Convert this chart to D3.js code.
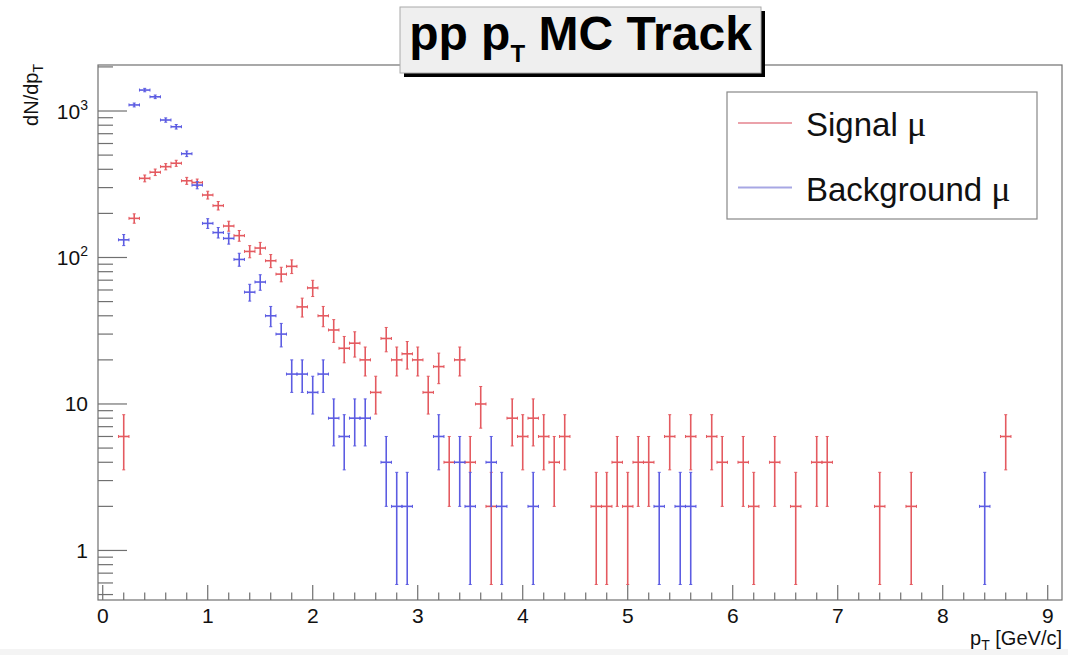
<!DOCTYPE html>
<html>
<head>
<meta charset="utf-8">
<script src="https://cdn.jsdelivr.net/npm/d3@7"></script>
<style>
  html, body { margin: 0; padding: 0; background: #fff; }
  svg { display: block; font-family: "Liberation Sans", Arial, sans-serif; }
</style>
</head>
<body>
<div id="chart"></div>
<script>
// Signal muons: bin centre (GeV/c) and dN/dpT
const signalPt = [0.2, 0.3, 0.4, 0.5, 0.6, 0.7, 0.8, 0.9, 1.0, 1.1, 1.2, 1.3, 1.4, 1.5, 1.6, 1.7, 1.8, 1.9,
  2.0, 2.1, 2.2, 2.3, 2.4, 2.5, 2.6, 2.7, 2.8, 2.9, 3.0, 3.1, 3.2, 3.3, 3.4, 3.5, 3.6, 3.7, 3.9,
  4.0, 4.1, 4.2, 4.3, 4.4, 4.7, 4.8, 4.9, 5.0, 5.1, 5.2, 5.4, 5.6, 5.8, 5.9, 6.1, 6.2, 6.4, 6.6,
  6.8, 6.9, 7.4, 7.7, 8.6];
const signalN = [6, 185, 347, 382, 417, 440, 334, 325, 267, 226, 164, 141, 110, 116, 95, 77, 87, 46,
  62, 40, 32, 24, 26, 20, 12, 28, 20, 22, 20, 12, 18, 4, 20, 4, 10, 2, 8,
  6, 8, 6, 4, 6, 2, 2, 4, 2, 4, 4, 6, 6, 6, 4, 4, 2, 4, 2,
  4, 4, 2, 2, 6];

// Background muons
const backgroundPt = [0.2, 0.3, 0.4, 0.5, 0.6, 0.7, 0.8, 0.9, 1.0, 1.1, 1.2, 1.3, 1.4, 1.5, 1.6, 1.7, 1.8, 1.9,
  2.0, 2.1, 2.2, 2.3, 2.4, 2.5, 2.7, 2.8, 2.9, 3.2, 3.4, 3.5, 3.7, 3.8, 4.1, 5.3, 5.5, 5.6, 8.4];
const backgroundN = [132, 1100, 1390, 1250, 868, 781, 511, 312, 171, 148, 135, 97, 58, 68, 40, 30, 16, 16,
  12, 16, 8, 6, 8, 8, 4, 2, 2, 6, 4, 2, 4, 2, 2, 2, 2, 2, 2];

const xTicks = [0, 1, 2, 3, 4, 5, 6, 7, 8, 9];
const yTicks = [1, 10, 100, 1000];
const yTickLabels = [['1', ''], ['10', ''], ['10', '2'], ['10', '3']];
const binWidth = 0.1;

const series = [
  { name: 'Signal', pt: signalPt, n: signalN, color: '#e45a60', legend: '#eba2aa' },
  { name: 'Background', pt: backgroundPt, n: backgroundN, color: '#5c5ce2', legend: '#a7a7e4' }
];

const width = 1068, height = 655;
const frame = { left: 98, right: 1062, top: 65, bottom: 600 };

const svg = d3.select('#chart').append('svg')
  .attr('width', width)
  .attr('height', height);

svg.append('rect').attr('width', width).attr('height', height).attr('fill', '#fff');
svg.append('rect').attr('x', 0).attr('y', 649).attr('width', width).attr('height', 6).attr('fill', '#f4f4f4');

const x = d3.scaleLinear().domain([-0.045, 9.136]).range([frame.left, frame.right]);
const y = d3.scaleLog().domain([0.459, 2061]).range([frame.bottom, frame.top]);

const axisColor = '#707070';

// frame
svg.append('rect')
  .attr('x', frame.left).attr('y', frame.top)
  .attr('width', frame.right - frame.left).attr('height', frame.bottom - frame.top)
  .attr('fill', 'none').attr('stroke', axisColor).attr('stroke-width', 1.2);

// x axis ticks
const xMinor = d3.range(0, 9.15, 0.2).map(v => Math.round(v * 10) / 10);
svg.append('g').selectAll('line')
  .data(xMinor)
  .enter().append('line')
  .attr('x1', d => x(d)).attr('x2', d => x(d))
  .attr('y1', frame.bottom)
  .attr('y2', d => frame.bottom - (Number.isInteger(d) ? 15 : 7.5))
  .attr('stroke', axisColor).attr('stroke-width', 1.2);

svg.append('g').selectAll('text')
  .data(xTicks)
  .enter().append('text')
  .attr('x', d => x(d))
  .attr('y', 623)
  .attr('text-anchor', 'middle')
  .attr('font-size', '21px')
  .attr('fill', '#111')
  .text(d => d);

// y axis ticks (log)
const yMinor = [];
[0.1, 1, 10, 100, 1000].forEach(dec => {
  for (let k = 1; k <= 9; k++) {
    const v = dec * k;
    if (v >= y.domain()[0] && v <= y.domain()[1]) yMinor.push({ v, major: k === 1 });
  }
});
svg.append('g').selectAll('line')
  .data(yMinor)
  .enter().append('line')
  .attr('x1', frame.left)
  .attr('x2', d => frame.left + (d.major ? 29 : 15))
  .attr('y1', d => y(d.v)).attr('y2', d => y(d.v))
  .attr('stroke', axisColor).attr('stroke-width', 1.2);

const yLab = svg.append('g').selectAll('text')
  .data(yTicks)
  .enter().append('text')
  .attr('x', 88)
  .attr('y', d => y(d) + 7.5)
  .attr('text-anchor', 'end')
  .attr('font-size', '21px')
  .attr('fill', '#111');
yLab.append('tspan').text((d, i) => yTickLabels[i][0]);
yLab.append('tspan')
  .attr('dy', -9)
  .attr('font-size', '14px')
  .text((d, i) => yTickLabels[i][1]);

// axis titles
const yTitle = svg.append('text')
  .attr('transform', 'translate(38,64) rotate(-90)')
  .attr('text-anchor', 'end')
  .attr('font-size', '20px')
  .attr('fill', '#111');
yTitle.append('tspan').text('dN/dp');
yTitle.append('tspan').attr('dy', 5).attr('font-size', '14px').text('T');

const xTitle = svg.append('text')
  .attr('x', 1062)
  .attr('y', 645)
  .attr('text-anchor', 'end')
  .attr('font-size', '20px')
  .attr('fill', '#111');
xTitle.append('tspan').text('p');
xTitle.append('tspan').attr('dy', 5).attr('font-size', '14px').text('T');
xTitle.append('tspan').attr('dy', -5).text(' [GeV/c]');

// error bars: horizontal = bin width, vertical = sqrt(N)
const cap = 1.5;
series.forEach(s => {
  const pts = s.pt.map((p, i) => ({ p, n: s.n[i] }));
  const g = svg.append('g')
    .attr('stroke', s.color)
    .attr('stroke-width', 1.6)
    .attr('fill', 'none');

  const pg = g.selectAll('g').data(pts).enter().append('g');

  pg.append('line')
    .attr('x1', d => x(d.p - binWidth / 2)).attr('x2', d => x(d.p + binWidth / 2))
    .attr('y1', d => y(d.n)).attr('y2', d => y(d.n));
  pg.append('line')
    .attr('x1', d => x(d.p)).attr('x2', d => x(d.p))
    .attr('y1', d => y(Math.max(d.n - Math.sqrt(d.n), y.domain()[0])))
    .attr('y2', d => y(d.n + Math.sqrt(d.n)));
  // small end caps
  pg.append('path')
    .attr('d', d => {
      const cx = x(d.p), cy = y(d.n);
      const x0 = x(d.p - binWidth / 2), x1 = x(d.p + binWidth / 2);
      const yl = y(Math.max(d.n - Math.sqrt(d.n), y.domain()[0]));
      const yh = y(d.n + Math.sqrt(d.n));
      return `M${x0},${cy - cap}V${cy + cap}M${x1},${cy - cap}V${cy + cap}` +
        `M${cx - cap},${yl}H${cx + cap}M${cx - cap},${yh}H${cx + cap}`;
    })
    .attr('stroke-width', 1);
});

// legend
const legend = svg.append('g');
legend.append('rect')
  .attr('x', 727).attr('y', 92)
  .attr('width', 310).attr('height', 127)
  .attr('fill', '#fff').attr('stroke', '#888').attr('stroke-width', 1.2);

series.forEach((s, i) => {
  const ly = 123 + i * 64.5;
  legend.append('line')
    .attr('x1', 738).attr('x2', 792)
    .attr('y1', ly).attr('y2', ly)
    .attr('stroke', s.legend).attr('stroke-width', 2);
  const t = legend.append('text')
    .attr('x', 806).attr('y', ly + 13)
    .attr('font-size', '33px')
    .attr('fill', '#111');
  t.append('tspan').text(s.name + ' ');
  t.append('tspan').attr('font-family', '"Liberation Serif", serif').attr('font-size', '36px').text('μ');
});

// title box with shadow
const title = svg.append('g');
title.append('rect')
  .attr('x', 404).attr('y', 11).attr('width', 361).attr('height', 66)
  .attr('fill', '#000');
title.append('rect')
  .attr('x', 400).attr('y', 7).attr('width', 361).attr('height', 66)
  .attr('fill', '#efefef').attr('stroke', '#aaa').attr('stroke-width', 1);
const tt = title.append('text')
  .attr('x', 580.5).attr('y', 50)
  .attr('text-anchor', 'middle')
  .attr('font-size', '48px')
  .attr('font-weight', 'bold')
  .attr('fill', '#000');
tt.append('tspan').text('pp p');
tt.append('tspan').attr('dy', 12).attr('font-size', '24px').text('T');
tt.append('tspan').attr('dy', -12).text(' MC Track');
</script>
</body>
</html>
